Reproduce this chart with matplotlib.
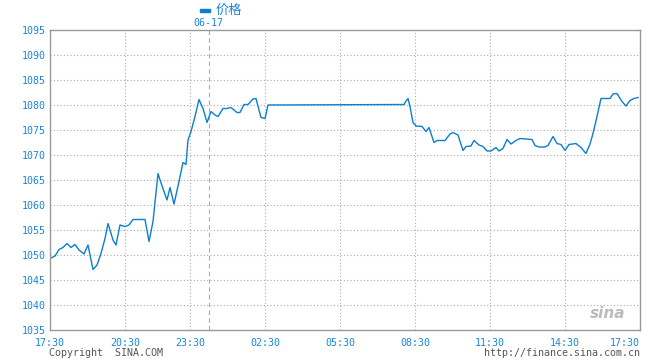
import matplotlib
matplotlib.use('Agg')
import matplotlib.pyplot as plt

plt.rcParams['font.family'] = ['DejaVu Sans Mono', 'Noto Sans CJK SC']

# x = position along the time axis (0 = 17:30 start, 590 = 17:30 end)
pos = [0, 5, 9, 13, 17, 21, 25, 29, 34, 38,
       43, 47, 51, 55, 58, 63, 66, 70, 75, 79,
       83, 95, 99, 103, 108, 110, 117, 120, 124, 129,
       133, 136, 138, 141, 145, 149, 153, 157, 161, 165,
       168, 173, 177, 181, 187, 190, 194, 198, 203, 206,
       211, 215, 218, 354, 356, 358, 360, 363, 366, 372,
       376, 379, 384, 387, 395, 400, 403, 408, 413, 416,
       421, 424, 429, 433, 437, 441, 446, 449, 453, 457,
       461, 466, 470, 482, 485, 489, 495, 498, 503, 507,
       511, 515, 519, 526, 531, 536, 540, 543, 547, 551,
       560, 563, 567, 572, 576, 580, 584, 588]
price = [1049.3, 1049.8, 1051.1, 1051.5, 1052.3, 1051.5, 1052.1, 1051.0, 1050.2, 1052.0,
         1047.1, 1048.0, 1050.3, 1053.3, 1056.3, 1053.0, 1052.0, 1056.0, 1055.7, 1056.0,
         1057.1, 1057.1, 1052.7, 1056.7, 1066.3, 1065.0, 1061.0, 1063.5, 1060.2, 1064.7,
         1068.5, 1068.1, 1073.0, 1074.7, 1077.7, 1081.1, 1079.3, 1076.5, 1078.7, 1078.0,
         1077.7, 1079.3, 1079.3, 1079.5, 1078.5, 1078.5, 1080.1, 1080.1, 1081.2, 1081.3,
         1077.5, 1077.3, 1080.0, 1080.1, 1080.8, 1081.3, 1079.7, 1076.5, 1075.8, 1075.7,
         1074.7, 1075.5, 1072.5, 1072.9, 1072.9, 1074.2, 1074.5, 1074.0, 1070.9, 1071.7,
         1071.8, 1072.9, 1072.0, 1071.7, 1070.8, 1070.8, 1071.5, 1070.8, 1071.3, 1073.1,
         1072.2, 1072.9, 1073.3, 1073.1, 1071.9, 1071.6, 1071.6, 1071.9, 1073.7, 1072.3,
         1072.1, 1070.9, 1072.1, 1072.3, 1071.5, 1070.3, 1072.2, 1074.3, 1077.7, 1081.3,
         1081.3, 1082.2, 1082.3, 1080.7, 1079.8, 1080.9, 1081.3, 1081.5]

tick_pos = [0, 75, 140, 215, 290, 365, 440, 515, 590]
tick_labels = ['17:30', '20:30', '23:30', '02:30', '05:30', '08:30', '11:30', '14:30', '17:30']
y_ticks = [1035, 1040, 1045, 1050, 1055, 1060, 1065, 1070, 1075, 1080, 1085, 1090, 1095]
day_pos = 159
day_label = '06-17'

blue = '#0a7fd0'
txt_blue = '#1a86d6'

fig = plt.figure(figsize=(6.6, 3.6), dpi=100)
ax = fig.add_axes([50 / 660, 30 / 360, 590 / 660, 300 / 360])

ax.plot(pos, price, color=blue, lw=1.0)
ax.set_xlim(0, 590)
ax.set_ylim(1035, 1095)

for t in tick_pos[1:-1]:
    ax.axvline(t, color='#aaaaaa', lw=0.8, ls=(0, (1, 2)), zorder=0)
for v in y_ticks[1:-1]:
    ax.axhline(v, color='#aaaaaa', lw=0.8, ls=(0, (1, 2)), zorder=0)
ax.axvline(day_pos, color='#aaaaaa', lw=0.8, ls=(0, (4, 3)), zorder=0)

for s in ax.spines.values():
    s.set_color('#999999')
    s.set_linewidth(1.0)

ax.set_xticks(tick_pos)
ax.set_xticklabels(tick_labels)
ax.set_yticks(y_ticks)
ax.tick_params(length=0, labelsize=7.2, colors=txt_blue)
ax.tick_params(axis='x', pad=6)
ax.tick_params(axis='y', pad=3)
ax.get_xticklabels()[-1].set_horizontalalignment('right')

fig.text(208 / 660, 1 - 22.5 / 360, day_label, color=txt_blue, fontsize=7.2, ha='center', va='center')
fig.patches.append(plt.Rectangle((200 / 660, 1 - 11.5 / 360), 10 / 660, 3 / 360,
                                 transform=fig.transFigure, color=blue, figure=fig))
fig.text(216 / 660, 1 - 10.5 / 360, '价格', color=txt_blue, fontsize=9.5, ha='left', va='center')
fig.text(49 / 660, 1 - 353 / 360, 'Copyright  SINA.COM', color='#555555', fontsize=7.2, ha='left', va='center')
fig.text(640 / 660, 1 - 353 / 360, 'http://finance.sina.com.cn', color='#555555', fontsize=7.2,
         ha='right', va='center')
ax.text(0.975, 0.03, 'sina', transform=ax.transAxes, color='#bbbbbb', fontsize=11,
        style='italic', weight='bold', ha='right', va='bottom', family='DejaVu Sans')

fig.savefig('out.png', dpi=100)
